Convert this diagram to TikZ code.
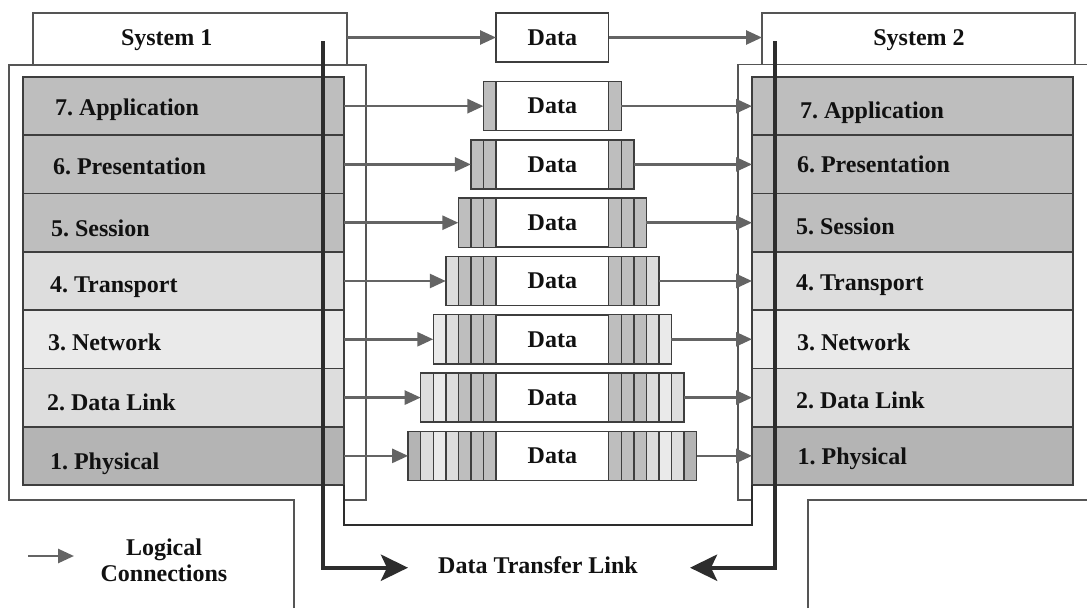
\documentclass[tikz,border=0pt]{standalone}
\usepackage{fontspec}
\setmainfont{Liberation Serif}
\usetikzlibrary{arrows.meta,calc}

% greys of the protocol layers and the line work
\definecolor{layA}{RGB}{190,190,190}
\definecolor{layB}{RGB}{221,221,221}
\definecolor{layC}{RGB}{234,234,234}
\definecolor{layD}{RGB}{180,180,180}
\colorlet{lay7}{layA}
\colorlet{lay6}{layA}
\colorlet{lay5}{layA}
\colorlet{lay4}{layB}
\colorlet{lay3}{layC}
\colorlet{lay2}{layB}
\colorlet{lay1}{layD}
\definecolor{frameC}{RGB}{85,85,85}
\definecolor{edgeC}{RGB}{62,62,62}
\definecolor{arrC}{RGB}{100,100,100}
\definecolor{darkC}{RGB}{45,45,45}
\definecolor{inkC}{RGB}{17,17,17}

\frenchspacing
\begin{document}
\begin{tikzpicture}[x=1pt,y=-1pt,
  font=\bfseries\fontsize{24}{27}\selectfont, text=inkC,
  frame/.style={draw=frameC, line width=1.6pt},
  sysbox/.style={frame, fill=white, inner sep=0pt, outer sep=0pt},
  layerbox/.style={draw=edgeC, line width=1.6pt, minimum width=321pt,
    minimum height=58.29pt, inner sep=0pt, outer sep=0pt},
  packet/.style={draw=edgeC, fill=white, line width=1.5pt, minimum height=49pt,
    inner sep=0pt, outer sep=0pt},
  header/.style={draw=edgeC, line width=1.4pt},
  lab/.style={inner sep=0pt, outer sep=0pt},
  garrow/.style={draw=arrC, line width=2.6pt, -{Triangle[length=16pt,width=14pt]}},
  transfer/.style={draw=darkC, line width=4.4pt, -{Stealth[length=27pt,width=26pt,inset=6pt]}},
  loopline/.style={draw=darkC, line width=2.5pt}]

\useasboundingbox (0,0) rectangle (1087,608);
\fill[white] (0,0) rectangle (1087,608);

% outer frames of both systems
\draw[frame] (294,608) -- (294,500) -- (9,500) -- (9,65) -- (366,65) -- (366,500) -- (344,500);
\draw[frame] (1087,64.5) -- (738,64.5) -- (738,500) -- (752,500);
\draw[frame] (808,608) -- (808,500) -- (1087,500);

% system headers
\node[sysbox, minimum width=313.7pt, minimum height=51.5pt] (S1) at (190,38.75) {};
\node[sysbox, minimum width=313pt, minimum height=51.5pt] (S2) at (918.5,38.75) {};
\node[lab, anchor=base] (S1t) at (166.7,45.5) {System 1};
\node[lab, anchor=base] (S2t) at (919,45.5) {System 2};

% layer stacks
\foreach \n/\c in {7/layA,6/layA,5/layA,4/layB,3/layC,2/layB,1/layD} {
  \pgfmathsetmacro\yy{77+(7.5-\n)*58.2857}
  \node[layerbox, fill=\c] (L\n) at (183.5,\yy) {};
  \node[layerbox, fill=\c] (R\n) at (912.5,\yy) {};
}

% layer names
\foreach \n/\t/\xl/\bl/\xr/\br in {
  7/Application/55/115/800/118,
  6/Presentation/53/174/797/172,
  5/Session/51/236/796/234,
  4/Transport/50/292.7/796/290,
  3/Network/48/350/797/350,
  2/Data Link/47/410/796/408,
  1/Physical/50/469.3/797.7/464} {
  \node[lab, anchor=base west] (TL\n) at (\xl,\bl) {\n. \t};
  \node[lab, anchor=base west] (TR\n) at (\xr,\br) {\n. \t};
}

% top data block
\node[packet, minimum width=112.7pt] (D0) at (552.35,37.5) {Data};
\draw[garrow] (S1.east |- D0.west) -- (D0.west);
\draw[garrow] (D0.east) -- (D0.east -| S2.west);

% encapsulated data units, one header per layer on each side
\foreach \n in {7,...,1} {
  \pgfmathsetmacro\yy{77+(7.5-\n)*58.2857}
  \pgfmathtruncatemacro\h{8-\n}
  \pgfmathsetmacro\pw{112.7+2*\h*12.55}
  \node[packet, minimum width=\pw pt] (P\n) at (552.35,\yy) {Data};
  \foreach \j in {1,...,\h} {
    \pgfmathtruncatemacro\m{8-\j}
    \draw[header, fill=lay\m] (496-\j*12.55,\yy-24.5) rectangle (496-\j*12.55+12.55,\yy+24.5);
    \draw[header, fill=lay\m] (608.7+\j*12.55-12.55,\yy-24.5) rectangle (608.7+\j*12.55,\yy+24.5);
  }
  \draw[garrow] (L\n.east |- P\n.west) -- (P\n.west);
  \draw[garrow] (P\n.east) -- (P\n.east -| R\n.west);
}

% link between the bottom layers
\draw[loopline] (L1.south east) -- ++(0,40) -| (R1.south west);

% data transfer paths
\coordinate (A1) at (322.7,41);
\coordinate (A2) at (322.7,567.7);
\coordinate (A3) at (408,567.7);
\coordinate (B1) at (775,41);
\coordinate (B2) at (775,567.7);
\coordinate (B3) at (690,567.7);
\draw[transfer] (A1) -- (A2) -- (A3);
\draw[transfer] (B1) -- (B2) -- (B3);
\node[lab, anchor=base] (DTL) at (538,573) {Data Transfer Link};

% legend
\coordinate (G1) at (28,556);
\coordinate (G2) at (74,556);
\draw[garrow] (G1) -- (G2);
\node[lab, anchor=base] (LG1) at (164,555) {Logical};
\node[lab, anchor=base] (LG2) at (164,581.7) {Connections};
\end{tikzpicture}
\end{document}
